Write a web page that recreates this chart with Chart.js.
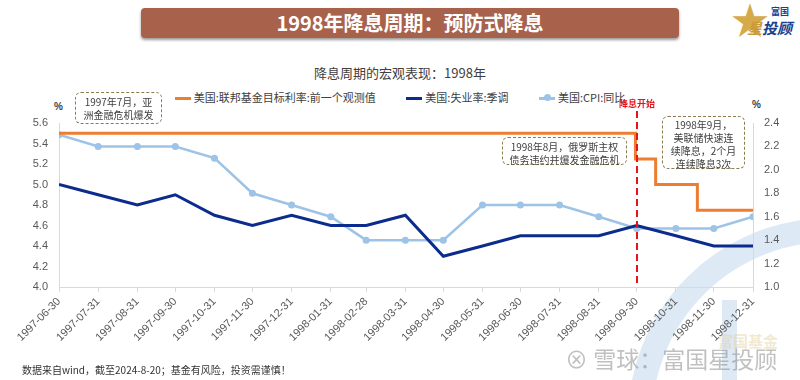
<!DOCTYPE html>
<html>
<head>
<meta charset="utf-8">
<script src="https://cdn.jsdelivr.net/npm/chart.js@4.4.1/dist/chart.umd.min.js"></script>
<style>
body{margin:0;width:800px;height:380px;overflow:hidden;background:#fff;position:relative;font-family:"Noto Sans CJK SC",sans-serif;}
.abs{position:absolute;}
#banner{left:141px;top:8px;width:538px;height:30px;background:#a8624c;border-radius:4px;box-shadow:0 2px 3px rgba(0,0,0,.4);color:#fff;font-weight:bold;font-size:20px;line-height:30px;text-align:center;}
#logo{left:733px;top:2px;width:65px;height:40px;}
#ctitle{left:0;top:63px;width:800px;text-align:center;font-size:13px;color:#404040;}
#legend{left:0;top:89px;width:800px;text-align:center;font-size:11px;color:#404040;white-space:nowrap;}
#legend span.it{display:inline-block;margin:0 14px;}
#legend i{display:inline-block;width:16px;height:3px;vertical-align:middle;margin-right:3px;position:relative;top:-1px;}
#legend i b{position:absolute;left:5px;top:-2.5px;width:7px;height:7px;border-radius:50%;background:#9dc3e6;}
.pct{font-size:10px;color:#404040;font-weight:bold;font-family:"Liberation Sans",sans-serif;}
.note{border:1.5px dashed #8d7b4e;border-radius:6px;font-size:10px;line-height:13px;color:#404040;text-align:center;box-sizing:border-box;padding-top:2px;background:#fff;}
#foot{left:22px;top:362px;font-size:10px;color:#333;}
#ring{left:628px;top:218px;width:404px;height:404px;border-radius:50%;border:24px solid rgba(160,192,228,.35);box-sizing:border-box;}
#bar{left:722px;top:300px;width:15px;height:80px;background:rgba(160,192,228,.35);}
#wm{left:565px;top:341px;font-size:23px;color:rgba(140,140,140,.55);white-space:nowrap;}
#wm2{left:718px;top:330px;font-size:15px;font-weight:bold;color:rgba(225,205,150,.45);}
canvas{position:absolute;left:0;top:0;}
</style>
</head>
<body>
<div id="ring" class="abs"></div>
<div id="bar" class="abs"></div>
<div id="wm2" class="abs">富国基金</div>
<div id="banner" class="abs">1998年降息周期：预防式降息</div>
<div id="logo" class="abs">
  <div style="position:absolute;left:-2px;top:-4px;font-size:38px;color:#d6aa4a;line-height:40px;">★</div>
  <div style="position:absolute;left:38px;top:3px;font-size:9px;font-weight:bold;color:#1b3f8f;">富国</div>
  <div style="position:absolute;left:14px;top:15px;font-size:15px;font-weight:bold;color:#1b3f8f;font-style:italic;white-space:nowrap;"><span style="color:#c99a3a">星</span>投顾</div>
</div>
<div id="ctitle" class="abs">降息周期的宏观表现：1998年</div>
<div id="legend" class="abs">
  <span class="it"><i style="background:#ed7d31"></i>美国:联邦基金目标利率:前一个观测值</span>
  <span class="it"><i style="background:#0b2c8c"></i>美国:失业率:季调</span>
  <span class="it"><i style="background:#9dc3e6"><b></b></i>美国:CPI:同比</span>
</div>
<div class="abs pct" style="left:54px;top:101px;">%</div>
<div class="abs pct" style="left:752px;top:99px;">%</div>
<canvas id="chart" width="800" height="380"></canvas>
<div class="abs note" style="left:75px;top:92px;width:87px;height:32px;">1997年7月，亚<br>洲金融危机爆发</div>
<div class="abs note" style="left:502px;top:137px;width:125px;height:28px;">1998年8月，俄罗斯主权<br>债务违约并爆发金融危机</div>
<div class="abs note" style="left:662px;top:116px;width:83px;height:53px;padding-top:1px;">1998年9月，<br>美联储快速连<br>续降息，2个月<br>连续降息3次</div>
<div id="foot" class="abs">数据来自wind，截至2024-8-20；基金有风险，投资需谨慎！</div>
<div id="wm" class="abs">⊗ 雪球：富国星投顾</div>
<script>
// ---- 数据 ----
const months = ['1997-06-30','1997-07-31','1997-08-31','1997-09-30','1997-10-31','1997-11-30','1997-12-31',
  '1998-01-31','1998-02-28','1998-03-31','1998-04-30','1998-05-31','1998-06-30','1998-07-31','1998-08-31',
  '1998-09-30','1998-10-31','1998-11-30','1998-12-31'];
const unemp = [5.0,4.9,4.8,4.9,4.7,4.6,4.7,4.6,4.6,4.7,4.3,4.4,4.5,4.5,4.5,4.6,4.5,4.4,4.4];
const cpi   = [2.3,2.2,2.2,2.2,2.1,1.8,1.7,1.6,1.4,1.4,1.4,1.7,1.7,1.7,1.6,1.5,1.5,1.5,1.6];
// 联邦基金目标利率 (变动日)
const fedDates = ['1997-06-30','1998-09-29','1998-10-15','1998-11-17','1998-12-31'];
const fedRate  = [5.5,5.25,5.0,4.75,4.75];
const cutDate = '1998-09-30';
const leftTicks = [4.0,5.6], rightTicks = [1.0,2.4];

const t0 = Date.parse(months[0]);
const dayOf = s => Math.round((Date.parse(s) - t0) / 86400000);
const labelByDay = {};
months.forEach(m => labelByDay[dayOf(m)] = m);

const cutLine = {
  id:'cutLine',
  afterDatasetsDraw(chart){
    const {ctx, chartArea, scales:{x}} = chart;
    const px = Math.round(x.getPixelForValue(dayOf(cutDate)));
    ctx.save();
    ctx.strokeStyle = '#e5141b'; ctx.lineWidth = 2; ctx.setLineDash([7,4]);
    ctx.beginPath(); ctx.moveTo(px, chartArea.top - 12); ctx.lineTo(px, chartArea.bottom); ctx.stroke();
    ctx.setLineDash([]);
    ctx.fillStyle = '#e5141b'; ctx.font = 'bold 9px "Noto Sans CJK SC"'; ctx.textAlign = 'center';
    ctx.fillText('降息开始', px, chartArea.top - 16);
    ctx.restore();
  }
};

const tickFont = {family:'"Liberation Sans", Arial, sans-serif', size:11};
new Chart(document.getElementById('chart'), {
  type:'line',
  data:{
    datasets:[
      { label:'美国:联邦基金目标利率:前一个观测值', data:fedDates.map((d,i)=>({x:dayOf(d), y:fedRate[i]})),
        yAxisID:'y', stepped:'before', borderColor:'#ed7d31', borderWidth:3, pointRadius:0 },
      { label:'美国:失业率:季调', data:months.map((m,i)=>({x:dayOf(m), y:unemp[i]})),
        yAxisID:'y', borderColor:'#0b2c8c', borderWidth:3, pointRadius:0 },
      { label:'美国:CPI:同比', data:months.map((m,i)=>({x:dayOf(m), y:cpi[i]})),
        yAxisID:'y1', borderColor:'#9dc3e6', backgroundColor:'#9dc3e6', borderWidth:2.5,
        pointRadius:3.5, pointBorderWidth:0, pointBackgroundColor:'#9dc3e6' }
    ]
  },
  options:{
    responsive:false, animation:false,
    layout:{padding:{top:123, left:0, right:0, bottom:0}},
    plugins:{legend:{display:false}, title:{display:false}, tooltip:{enabled:false}},
    scales:{
      x:{ type:'linear', min:0, max:dayOf(months[months.length-1]), offset:false,
        afterBuildTicks: s => { s.ticks = months.map(m => ({value:dayOf(m)})); },
        afterFit: s => { s.height = 93; },
        ticks:{ autoSkip:false, maxRotation:45, minRotation:45, color:'#595959', font:tickFont,
          callback: v => labelByDay[v] || '' },
        grid:{ display:true, drawOnChartArea:false, tickLength:5, color:'#d9d9d9' },
        border:{ color:'#d9d9d9' } },
      y:{ position:'left', min:leftTicks[0], max:leftTicks[1],
        afterFit: s => { s.width = 59; },
        ticks:{ stepSize:0.2, color:'#595959', font:tickFont, callback: v => v.toFixed(1) },
        grid:{ display:false }, border:{ color:'#d9d9d9' } },
      y1:{ position:'right', min:rightTicks[0], max:rightTicks[1],
        afterFit: s => { s.width = 47; },
        ticks:{ stepSize:0.2, color:'#595959', font:tickFont, callback: v => v.toFixed(1) },
        grid:{ display:false }, border:{ color:'#d9d9d9' } }
    }
  },
  plugins:[cutLine]
});
</script>
</body>
</html>
